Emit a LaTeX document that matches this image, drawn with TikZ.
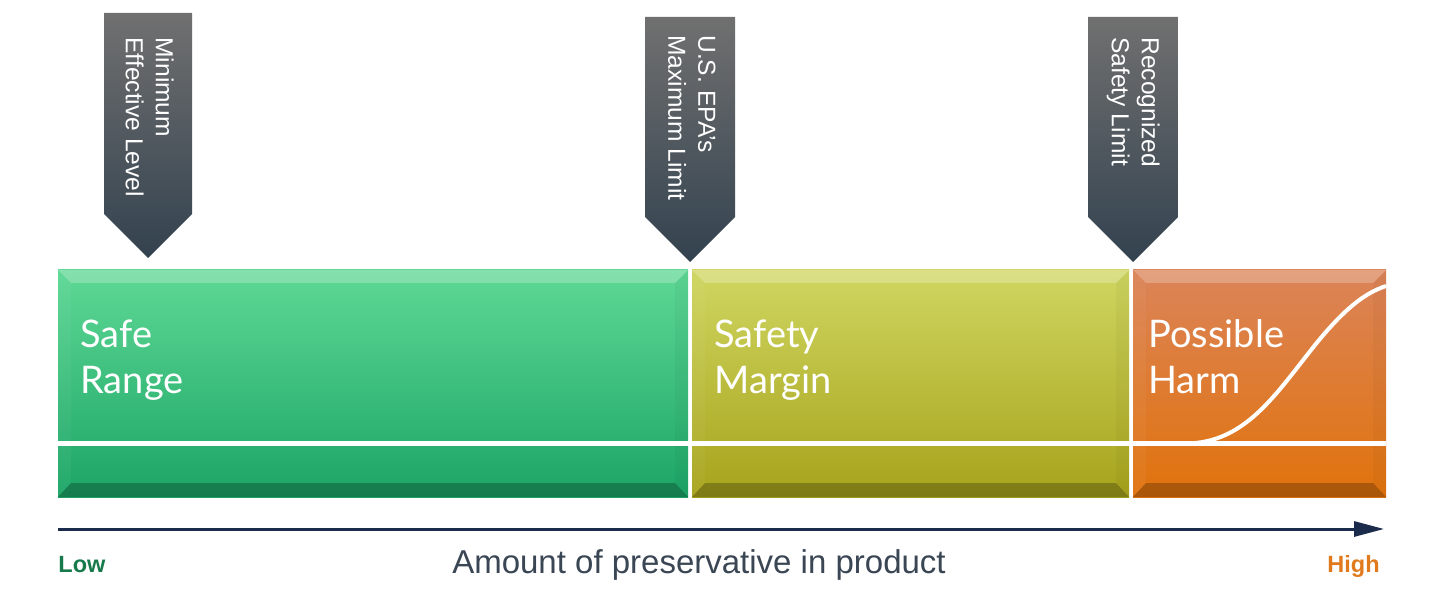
\documentclass[tikz,border=0pt]{standalone}
\usepackage{fontspec}
\setmainfont{Liberation Sans}
\newfontfamily\latofont{Lato}
\usetikzlibrary{arrows.meta}
\definecolor{greentop}{HTML}{5ED895}
\definecolor{greenbot}{HTML}{1CA566}
\definecolor{yeltop}{HTML}{CFD660}
\definecolor{yelbot}{HTML}{A7A31C}
\definecolor{orgtop}{HTML}{DB8459}
\definecolor{orgbot}{HTML}{E1730C}
\definecolor{marktop}{HTML}{707070}
\definecolor{markbot}{HTML}{33424F}
\definecolor{axisblue}{HTML}{1B2B4B}
\definecolor{axistext}{HTML}{3A4654}
\definecolor{lowgreen}{HTML}{177A4B}
\definecolor{highorange}{HTML}{E07A1C}
\newcommand\bevelbar[4]{%
  \pgfmathsetmacro\bxa{#1+13}%
  \pgfmathsetmacro\bxb{#2-13}%
  \shade[top color=#3,bottom color=#4] (#1,270) rectangle (#2,497);
  \fill[white,opacity=.24] (#1,270) -- (#2,270) -- (\bxb,283) -- (\bxa,283) -- cycle;
  \fill[black,opacity=.24] (#1,497) -- (#2,497) -- (\bxb,483) -- (\bxa,483) -- cycle;
  \fill[white,opacity=.04] (#1,270) -- (\bxa,283) -- (\bxa,483) -- (#1,497) -- cycle;
  \fill[black,opacity=.03] (#2,270) -- (\bxb,283) -- (\bxb,483) -- (#2,497) -- cycle;
}
\tikzset{
  marker/.style={top color=marktop,bottom color=markbot},
  marktext/.style={rotate=-90,anchor=north west,inner sep=0pt,align=left,text=white,
    font=\fontsize{12.3pt}{15pt}\selectfont},
  barlabel/.style={anchor=north west,inner sep=0pt,align=left,text=white,
    font=\latofont\fontsize{19pt}{23pt}\selectfont},
}
\begin{document}
\begin{tikzpicture}[x=0.5pt,y=-0.5pt]
\useasboundingbox (0,0) rectangle (1438,614);
\fill[white] (0,0) rectangle (1438,614);
% bars
\bevelbar{58}{688}{greentop}{greenbot}
\bevelbar{692}{1129}{yeltop}{yelbot}
\bevelbar{1133}{1386}{orgtop}{orgbot}
% white horizontal divider
\draw[white,line width=2.6pt] (58,443.5) -- (1386,443.5);
% harm curve
\draw[white,line width=2pt] (1133,443.5) -- (1185,443.5)
  .. controls (1245,443.5) and (1275,395) .. (1315,345)
  .. controls (1345,308) and (1365,293) .. (1386,286);
% bar labels
\node[barlabel] (safe) at (80,319) {Safe\\Range};
\node[barlabel] (margin) at (714,319) {Safety\\Margin};
\node[barlabel] (harm) at (1148,319) {Possible\\Harm};
% markers
\shade[marker] (104,13) -- (192,13) -- (192,214) -- (148,258) -- (104,214) -- cycle;
\shade[marker] (645,17) -- (735,17) -- (735,217) -- (690,262) -- (645,217) -- cycle;
\shade[marker] (1088,17) -- (1178,17) -- (1178,217) -- (1133,262) -- (1088,217) -- cycle;
\node[marktext] (m1) at (174,37) {Minimum\\Effective Level};
\node[marktext] (m2) at (716,35) {U.S. EPA’s\\Maximum Limit};
\node[marktext] (m3) at (1160,37) {Recognized\\Safety Limit};
% axis
\coordinate (axs) at (58,529);
\coordinate (axe) at (1384,529);
\draw[axisblue,line width=1.5pt,-{Triangle[length=15pt,width=7.5pt]}] (axs) -- (axe);
\node[anchor=base west,inner sep=0pt,text=lowgreen,font=\bfseries\fontsize{11.75pt}{14pt}\selectfont] (low) at (58,572) {Low};
\node[anchor=base east,inner sep=0pt,text=highorange,font=\bfseries\fontsize{11.75pt}{14pt}\selectfont] (high) at (1380,572) {High};
\node[anchor=base,inner sep=0pt,text=axistext,font=\fontsize{16.5pt}{20pt}\selectfont] (amount) at (699,573) {Amount of preservative in product};
\end{tikzpicture}
\end{document}
